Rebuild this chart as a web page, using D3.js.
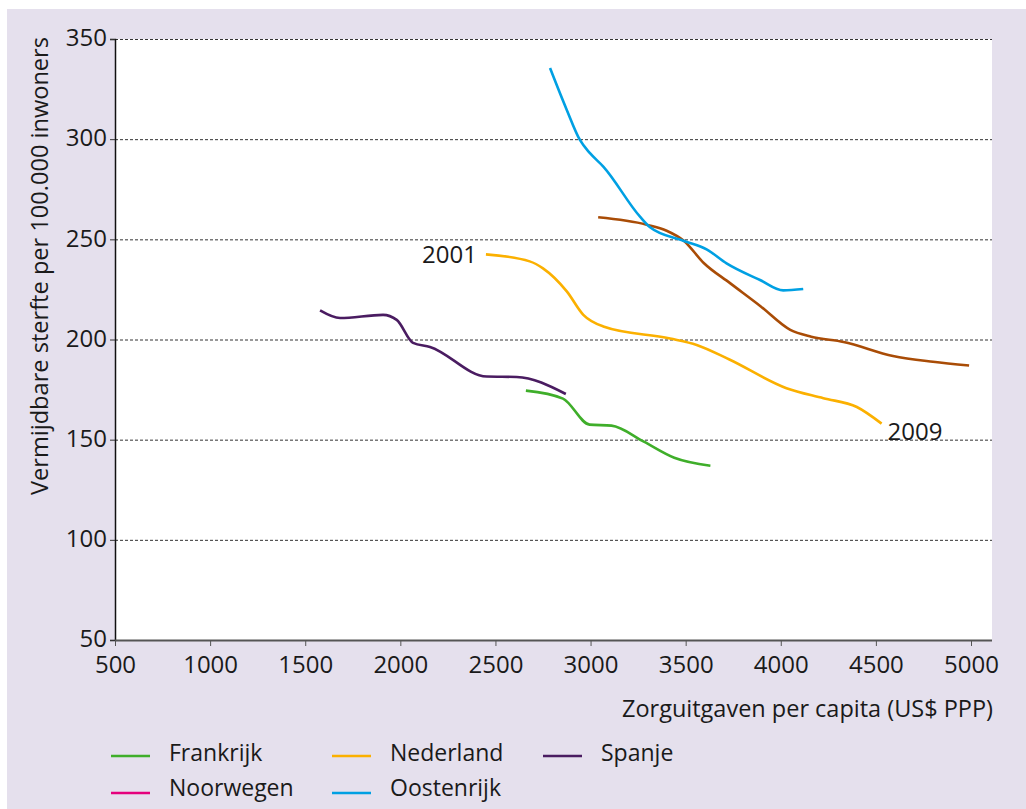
<!DOCTYPE html>
<html><head><meta charset="utf-8">
<script src="https://cdn.jsdelivr.net/npm/d3@7"></script>
<style>
html,body{margin:0;padding:0;background:#fff;}
svg text{font-family:"Open Sans","Noto Sans",sans-serif;fill:#1a1a1a;}
</style></head>
<body><svg id="c" width="1026" height="809"></svg>
<script>
// ---- data (x = zorguitgaven per capita US$ PPP, y = vermijdbare sterfte per 100.000) ----
const countries = ["Frankrijk", "Noorwegen", "Nederland", "Oostenrijk", "Spanje"];
const legendColors = ["#3fae2a", "#e5007d", "#fbb000", "#00a0e3", "#4a1c61"];
const lineColors   = ["#3fae2a", "#a94c06", "#fbb000", "#00a0e3", "#4a1c61"];
const xTicks = [500, 1000, 1500, 2000, 2500, 3000, 3500, 4000, 4500, 5000];
const yTicks = [50, 100, 150, 200, 250, 300, 350];

const frankrijk = [[2660,174.5],[2855,170.5],[2995,157.5],[3110,157],[3280,149],[3440,141],[3630,137]];
const noorwegen = [[3040,261],[3295,257.3],[3400,254.3],[3490,249.3],[3595,238.2],[3735,228],[3895,216.5],[4050,204.8],[4160,201.4],[4330,198.8],[4590,191.8],[4800,188.9],[4990,187]];
const nederland = [[2450,242.5],[2680,239],[2750,235.5],[2875,224],[2962,212.3],[3067,206.5],[3418,200.5],[3558,197.3],[3730,190],[4030,175.7],[4224,170.7],[4400,166.3],[4530,158]];
const oostenrijk = [[2787,335.5],[2875,314.6],[2944,299.6],[2997,293],[3067,286.3],[3260,261.3],[3313,256],[3488,249.3],[3610,245],[3715,238],[3891,229.7],[4013,224.5],[4118,225.2]];
const spanje = [[1578,214.5],[1683,210.7],[1909,212.3],[1981,209.8],[2067,198.3],[2156,196.3],[2454,181.5],[2612,181.3],[2870,172.8]];
const seriesData = [frankrijk, noorwegen, nederland, oostenrijk, spanje];
const labels = [{text:"2001", x:2450, y:242.5, side:"left"}, {text:"2009", x:4530, y:158, side:"right"}];

const svg = d3.select("#c");
// background panel
svg.append("rect").attr("x",7).attr("y",9).attr("width",1019).attr("height",800).attr("fill","#e5e0ed");

const pL=115, pR=992, pT=39, pB=640;
const x = d3.scaleLinear().domain([500, 5000]).range([pL, 971]);
const y = d3.scaleLinear().domain([50, 350]).range([pB, pT]);

svg.append("rect").attr("x",pL).attr("y",pT).attr("width",pR-pL).attr("height",pB-pT).attr("fill","#fff");

// gridlines
svg.append("g").selectAll("line").data(yTicks.filter(d=>d>50)).join("line")
  .attr("x1",pL).attr("x2",pR).attr("y1",d=>y(d)+0.5).attr("y2",d=>y(d)+0.5)
  .attr("stroke","#333").attr("stroke-width",1).attr("stroke-dasharray","3,2");

// y axis
const yAxis = svg.append("g").attr("transform",`translate(${pL},0)`)
  .call(d3.axisLeft(y).tickValues(yTicks).tickSize(5).tickPadding(3));
yAxis.select(".domain").attr("stroke","#111").attr("stroke-width",1.5);
yAxis.selectAll(".tick line").attr("stroke","#333");
yAxis.selectAll("text").attr("font-size",24).attr("dy","0.28em").attr("fill","#1a1a1a").style("font-family","'Open Sans'");

// x axis
const xAxis = svg.append("g").attr("transform",`translate(0,${pB})`)
  .call(d3.axisBottom(x).tickValues(xTicks).tickSize(6).tickPadding(10).tickFormat(d3.format("d")));
xAxis.select(".domain").attr("d",`M${pL},0.5H${pR}`).attr("stroke","#555").attr("stroke-width",2);
xAxis.selectAll(".tick line").attr("stroke","#555");
xAxis.selectAll("text").attr("font-size",24).attr("fill","#1a1a1a").style("font-family","'Open Sans'");

// axis titles
svg.append("text").attr("transform","translate(48,266) rotate(-90)").attr("text-anchor","middle")
  .attr("font-size",23).attr("textLength",458).attr("lengthAdjust","spacingAndGlyphs")
  .text("Vermijdbare sterfte per 100.000 inwoners");
svg.append("text").attr("x",993).attr("y",717).attr("text-anchor","end")
  .attr("font-size",23).attr("textLength",371).attr("lengthAdjust","spacingAndGlyphs")
  .text("Zorguitgaven per capita (US$ PPP)");

// lines
const line = d3.line().x(d=>x(d[0])).y(d=>y(d[1])).curve(d3.curveMonotoneX);
svg.append("g").selectAll("path").data(seriesData).join("path")
  .attr("d",line).attr("fill","none").attr("stroke",(d,i)=>lineColors[i]).attr("stroke-width",2.6);

// year labels
svg.append("g").selectAll("text").data(labels).join("text")
  .attr("x",d=>d.side==="left"? x(d.x)-9 : x(d.x)+6)
  .attr("y",d=>d.side==="left"? y(d.y)+9 : y(d.y)+16)
  .attr("text-anchor",d=>d.side==="left"?"end":"start")
  .attr("font-size",24).text(d=>d.text);

// legend
const legendPos = [[111,756],[111,793],[332,756],[332,793],[543,756]];
const lg = svg.append("g").selectAll("g").data(countries).join("g")
  .attr("transform",(d,i)=>`translate(${legendPos[i][0]},${legendPos[i][1]})`);
lg.append("line").attr("x1",0).attr("x2",39).attr("y1",0).attr("y2",0)
  .attr("stroke",(d,i)=>legendColors[i]).attr("stroke-width",2.6);
lg.append("text").attr("x",58).attr("y",(d,i)=>i%2===1 && i<4 ? -5 : -3).attr("dy","0.35em").attr("font-size",23).text(d=>d);
</script></body></html>
